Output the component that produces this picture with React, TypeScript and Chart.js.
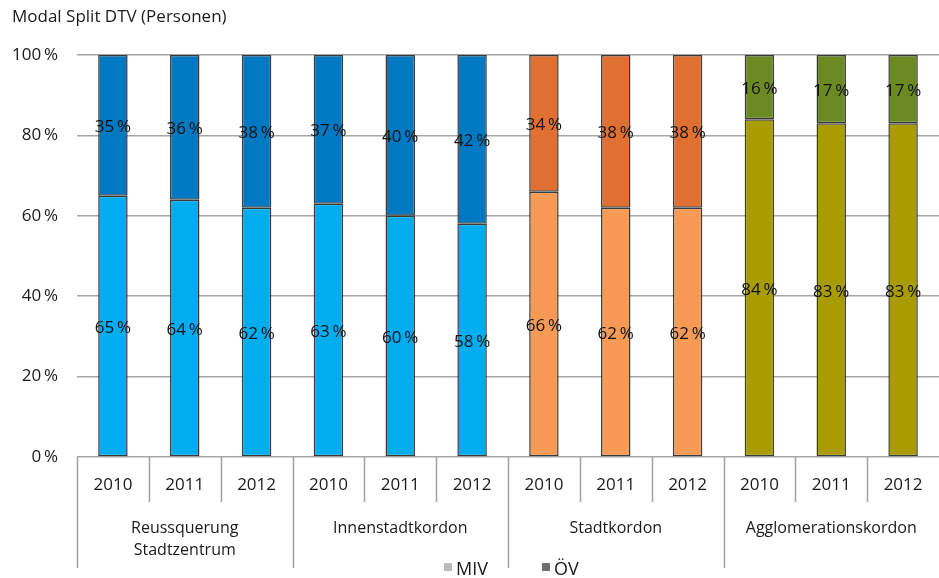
import React, { useEffect, useRef } from "react";
import { Chart, registerables } from "chart.js";

Chart.register(...registerables);

const title = "Modal Split DTV (Personen)";
const years = ["2010", "2011", "2012", "2010", "2011", "2012", "2010", "2011", "2012", "2010", "2011", "2012"];
const groups = [["Reussquerung", "Stadtzentrum"], ["Innenstadtkordon"], ["Stadtkordon"], ["Agglomerationskordon"]];
const mivValues = [65, 64, 62, 63, 60, 58, 66, 62, 62, 84, 83, 83];
const oevValues = [35, 36, 38, 37, 40, 42, 34, 38, 38, 16, 17, 17];
const mivColors = ["#00AEEF", "#00AEEF", "#00AEEF", "#00AEEF", "#00AEEF", "#00AEEF", "#F79A55", "#F79A55", "#F79A55", "#A89C00", "#A89C00", "#A89C00"];
const oevColors = ["#0079C2", "#0079C2", "#0079C2", "#0079C2", "#0079C2", "#0079C2", "#E07032", "#E07032", "#E07032", "#6B8A22", "#6B8A22", "#6B8A22"];
const yTicks = [0, 20, 40, 60, 80, 100];
const legendItems = [{ label: "MIV", color: "#BDBDBD" }, { label: "ÖV", color: "#6E6E6E" }];

const FONT = "'Open Sans', sans-serif";

const overlay = {
  id: "overlay",
  afterDatasetsDraw(chart: any) {
    const ctx = chart.ctx;
    ctx.save();
    ctx.fillStyle = "#111111";
    ctx.font = `17px ${FONT}`;
    ctx.textAlign = "center";
    ctx.textBaseline = "middle";
    chart.data.datasets.forEach((ds: any, di: number) => {
      const meta = chart.getDatasetMeta(di);
      meta.data.forEach((bar: any, i: number) => {
        const y = (bar.y + bar.base) / 2 + 2;
        ctx.fillText(`${ds.data[i]}\u2009%`, bar.x, y);
      });
    });
    ctx.restore();
  },
  afterDraw(chart: any) {
    const ctx = chart.ctx;
    const area = chart.chartArea;
    const xs = chart.scales.x;
    const n = years.length;
    const w = (area.right - area.left) / n;
    ctx.save();
    // title
    ctx.fillStyle = "#1a1a1a";
    ctx.font = `17px ${FONT}`;
    ctx.textAlign = "left";
    ctx.textBaseline = "middle";
    ctx.fillText(title, 12, 17);
    // separators
    ctx.strokeStyle = "#A0A0A0";
    ctx.lineWidth = 1.5;
    for (let i = 0; i < n; i++) {
      const x = Math.round(area.left + i * w) + 0.5;
      const long = i % 3 === 0;
      ctx.beginPath();
      ctx.moveTo(x, area.bottom);
      ctx.lineTo(x, long ? area.bottom + 111 : area.bottom + 45);
      ctx.stroke();
    }
    // years
    ctx.fillStyle = "#1a1a1a";
    ctx.font = `17px ${FONT}`;
    ctx.textAlign = "center";
    years.forEach((yr, i) => {
      ctx.fillText(yr, xs.getPixelForValue(i), area.bottom + 28);
    });
    ctx.font = `16px ${FONT}`;
    groups.forEach((lines, g) => {
      const cx = (xs.getPixelForValue(g * 3) + xs.getPixelForValue(g * 3 + 2)) / 2;
      lines.forEach((ln, k) => {
        ctx.fillText(ln, cx, area.bottom + 71 + k * 22);
      });
    });
    // legend
    ctx.font = `18px ${FONT}`;
    ctx.textAlign = "left";
    let lx = 444;
    legendItems.forEach((it) => {
      ctx.fillStyle = it.color;
      ctx.fillRect(lx, 563, 8, 8);
      ctx.fillStyle = "#1a1a1a";
      ctx.fillText(it.label, lx + 12, 570);
      lx += 98;
    });
    ctx.restore();
  },
};

export default function App() {
  const ref = useRef<HTMLCanvasElement>(null);
  useEffect(() => {
    const chart = new Chart(ref.current!, {
      type: "bar",
      data: {
        labels: years,
        datasets: [
          { label: "MIV", data: mivValues, backgroundColor: mivColors, borderColor: "#3a3a3a", borderWidth: 1.5, borderSkipped: false, barPercentage: 0.41, categoryPercentage: 1 },
          { label: "ÖV", data: oevValues, backgroundColor: oevColors, borderColor: "#3a3a3a", borderWidth: 1.5, borderSkipped: false, barPercentage: 0.41, categoryPercentage: 1 },
        ],
      },
      options: {
        animation: false,
        responsive: false,
        maintainAspectRatio: false,
        layout: { padding: { top: 55, bottom: 121, left: 0, right: 0 } },
        plugins: { legend: { display: false }, tooltip: { enabled: false } },
        scales: {
          x: { stacked: true, display: false, grid: { display: false } },
          y: {
            stacked: true,
            min: 0,
            max: 100,
            afterFit: (s: any) => { s.width = 77; },
            afterBuildTicks: (s: any) => { s.ticks = yTicks.map((v) => ({ value: v })); },
            ticks: {
              callback: (v: any) => `${v}\u2009%`,
              color: "#1a1a1a",
              font: { family: "'Open Sans', sans-serif", size: 17 },
              padding: 19,
            },
            grid: { color: "#A6A6A6", lineWidth: 1.5, drawTicks: false },
            border: { display: false },
          },
        },
      },
      plugins: [overlay],
    });
    return () => chart.destroy();
  }, []);
  return (
    <div style={{ position: "fixed", left: 0, top: 0, width: 939, height: 578, background: "#fff" }}>
      <canvas ref={ref} width={939} height={578} style={{ width: 939, height: 578 }} />
    </div>
  );
}
